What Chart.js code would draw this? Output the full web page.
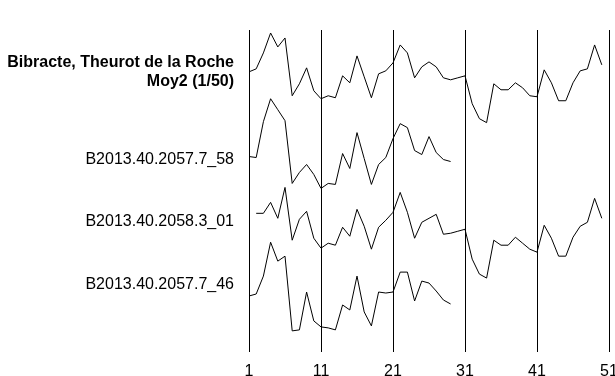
<!DOCTYPE html>
<html>
<head>
<meta charset="utf-8">
<script src="https://cdn.jsdelivr.net/npm/chart.js@4"></script>
<style>
  html, body { margin: 0; padding: 0; overflow: hidden; background: #fff; }
</style>
</head>
<body>
<canvas id="dendro" width="615" height="391"></canvas>
<script>
// annees (cernes) 1..51
const years = Array.from({ length: 51 }, (_, i) => i + 1);
const xTicks = [1, 11, 21, 31, 41, 51];

// series (indices de largeur de cernes)
const moy2 = [58, 61, 77, 97, 83, 92, 34, 46, 62, 39, 31, 34, 32, 54, 47, 74, 53, 32, 56, 59,
  67, 85, 77, 52, 63, 68, 63, 52, 50, 52, 54, 26, 11, 7, 46, 40, 40, 47, 42, 34,
  33, 60, 47, 29, 29, 47, 59, 61, 85, 65];
const b2057_58 = [38, 37, 73, 96, 85, 74, 11, 22, 30, 20, 6, 11, 10, 41, 26, 62, 36, 10, 30, 37,
  56, 71, 67, 44, 40, 58, 42, 35, 33];
const b2058_01 = [null, 71, 71, 82, 66, 97, 44, 65, 73, 46, 36, 41, 39, 57, 48, 75, 58, 35, 57, 64,
  72, 92, 72, 46, 62, 66, 70, 50, 51, 53, 55, 25, 10, 6, 44, 39, 39, 47, 41, 35,
  32, 59, 46, 28, 28, 47, 58, 62, 86, 66];
const b2057_46 = [43, 45, 63, 97, 78, 83, 8, 9, 47, 18, 12, 11, 9, 34, 29, 63, 27, 13, 47, 46,
  47, 67, 67, 38, 58, 56, 48, 39, 35];

const seriesNames = [
  ['Bibracte, Theurot de la Roche', 'Moy2 (1/50)'],
  ['B2013.40.2057.7_58'],
  ['B2013.40.2058.3_01'],
  ['B2013.40.2057.7_46']
];
const seriesData = [moy2, b2057_58, b2058_01, b2057_46];

// decalage vertical de chaque serie et ligne de son etiquette (unites de l'axe y)
const offsets = [223, 158, 68, 13];
const labelRows = [281, 193, 131, 67];

const datasets = seriesData.map((vals, i) => ({
  label: seriesNames[i].join(' '),
  data: vals.map((v, k) => ({ x: years[k], y: v === null ? null : v + offsets[i] })),
  borderColor: '#000',
  borderWidth: 1,
  pointRadius: 0,
  tension: 0,
  spanGaps: false
}));

// etiquettes a gauche
const seriesLabels = {
  id: 'seriesLabels',
  afterDraw(chart) {
    const ctx = chart.ctx;
    const yScale = chart.scales.y;
    ctx.save();
    ctx.fillStyle = '#000';
    ctx.textAlign = 'right';
    ctx.textBaseline = 'middle';
    seriesNames.forEach((lines, i) => {
      const yc = yScale.getPixelForValue(labelRows[i]);
      const bold = lines.length > 1;
      ctx.font = (bold ? 'bold ' : '') + '16px "Liberation Sans", Arial, sans-serif';
      const h = 19;
      lines.forEach((t, j) => {
        const y = yc + (j - (lines.length - 1) / 2) * h;
        ctx.fillText(t, 234, y);
      });
    });
    ctx.restore();
  }
};

const ctx = document.getElementById('dendro').getContext('2d');
new Chart(ctx, {
  type: 'line',
  data: { datasets: datasets },
  options: {
    responsive: false,
    animation: false,
    layout: { padding: { left: 249, right: 6, top: 30, bottom: 0 } },
    plugins: {
      legend: { display: false },
      tooltip: { enabled: false }
    },
    scales: {
      x: {
        type: 'linear',
        min: 1,
        max: 51,
        afterBuildTicks: (axis) => { axis.ticks = xTicks.map(v => ({ value: v })); },
        afterFit: (axis) => { axis.paddingLeft = 0; axis.paddingRight = 0; },
        ticks: {
          color: '#000',
          padding: 10,
          maxRotation: 0,
          font: { family: '"Liberation Sans", Arial, sans-serif', size: 16 }
        },
        grid: { color: '#000', lineWidth: 1, drawTicks: false },
        border: { display: false }
      },
      y: {
        display: false,
        min: 0,
        max: 323
      }
    }
  },
  plugins: [seriesLabels]
});
</script>
</body>
</html>
